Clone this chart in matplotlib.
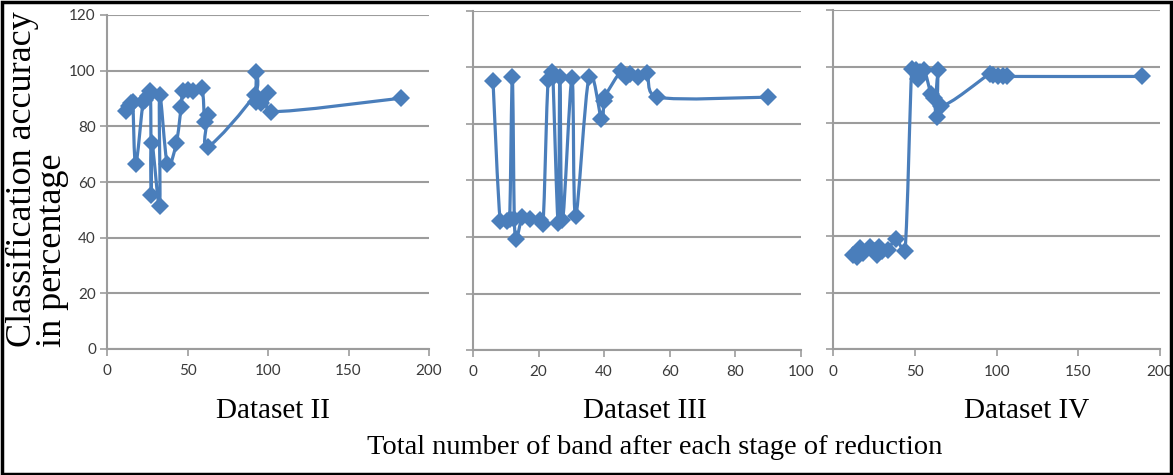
import matplotlib
matplotlib.use("Agg")
import matplotlib.pyplot as plt
import numpy as np
from matplotlib.path import Path
from matplotlib.patches import PathPatch, Rectangle

# band counts / accuracy (%) per reduction stage
bands_ii = [182.4, 102, 100, 95.8, 92.7, 92.7, 91.7, 62.7, 62.7, 60.7, 59, 53.4, 50.3,
            47, 46, 43, 37.5, 32.7, 32.7, 28, 27.5, 27, 25.5, 23.8, 22.4, 17.8, 16,
            15, 13.7, 12]
acc_ii = [90.1, 85.3, 91.8, 88.3, 88.9, 99.6, 91.3, 72.7, 84.1, 81.7, 93.6, 92.8, 93,
          92.8, 86.8, 73.9, 66.4, 91.3, 51.2, 73.9, 55.4, 92.8, 90.9, 89.5, 88.9, 66.4,
          88.9, 88.3, 87.3, 85.5]

bands_iii = [90.1, 56.3, 53.1, 50.2, 48, 46.8, 45.3, 40.2, 39.9, 39.2, 35.4, 31.3, 30.2,
             27.3, 26.5, 26, 24.4, 24.1, 22.9, 21.4, 20.4, 17.3, 15.1, 13.2, 12.6, 12,
             11.2, 10.5, 8.3, 6.1]
acc_iii = [89.5, 89.5, 98, 96.8, 97.8, 96.5, 98.9, 89.7, 88, 81.7, 96.6, 47.5, 96.2,
           46, 96.6, 45.1, 96.6, 98.3, 95.6, 44.6, 46, 46.3, 47.2, 39.2, 46.5, 96.6,
           46.2, 45.8, 45.8, 95.3]

bands_iv = [188.8, 106.5, 104, 101, 98, 95.9, 65.7, 64.3, 63.3, 61.6, 59.8, 55.7, 53,
            52, 50.6, 48, 43.9, 38.4, 33.3, 29.6, 28, 26.5, 24.9, 22.4, 18.4, 16.3,
            14.3, 12.2]
acc_iv = [96.5, 96.5, 96.8, 96.8, 97, 97.5, 86.1, 98.8, 82.3, 88.8, 90.3, 98.8, 97.9,
          95.5, 98.8, 99, 34.9, 38.9, 35.1, 34.6, 36.3, 33.4, 34.6, 36.3, 34, 35.7,
          32.8, 33.4]

titles = ["Dataset II", "Dataset III", "Dataset IV"]
xmax = [200, 100, 200]
xstep = [50, 20, 50]

line_color = "#4A7EBB"
grid_color = "#9C9C9C"
tick_color = "#3A3A3A"
tick_font = ["Lato", "DejaVu Sans"]
serif = ["Liberation Serif", "DejaVu Serif"]


def smooth_path(ax, x, y, tension=1 / 6, clamp=0.5):
    # Bezier curve through the points (Catmull-Rom style), built in pixel space
    pts = ax.transData.transform(np.column_stack([x, y]))
    n = len(pts)
    verts = [pts[0]]
    codes = [Path.MOVETO]
    for i in range(n - 1):
        p_prev = pts[max(i - 1, 0)]
        p0 = pts[i]
        p1 = pts[i + 1]
        p_next = pts[min(i + 2, n - 1)]
        seg = np.hypot(*(p1 - p0))
        t0 = (p1 - p_prev) * tension
        t1 = (p_next - p0) * tension
        for t in (t0, t1):
            ln = np.hypot(*t)
            if ln > clamp * seg and ln > 0:
                t *= clamp * seg / ln
        verts += [p0 + t0, p1 - t1, p1]
        codes += [Path.CURVE4] * 3
    verts = ax.transData.inverted().transform(np.array(verts))
    return Path(verts, codes)


fig = plt.figure(figsize=(11.73, 4.75), dpi=100)

# axes boxes in figure pixels: left, right, top, bottom
boxes = [(107, 429, 15, 349), (473, 800.7, 11, 350), (833.3, 1160, 10, 349.3)]
W, H = 1173, 475
data = [(bands_ii, acc_ii), (bands_iii, acc_iii), (bands_iv, acc_iv)]
title_x = [273, 645, 1027]

for k, ((l, r, t, b), (bx, by)) in enumerate(zip(boxes, data)):
    ax = fig.add_axes([l / W, 1 - b / H, (r - l) / W, (b - t) / H])
    ax.set_xlim(0, xmax[k])
    ax.set_ylim(0, 120)
    ax.set_xticks(np.arange(0, xmax[k] + 1, xstep[k]))
    ax.set_yticks(np.arange(0, 121, 20))
    ax.yaxis.grid(True, color=grid_color, linewidth=1.5)
    ax.set_axisbelow(True)
    for side in ["top", "right"]:
        ax.spines[side].set_visible(False)
    for side in ["left", "bottom"]:
        ax.spines[side].set_color(grid_color)
        ax.spines[side].set_linewidth(1.5)
    ax.tick_params(axis="both", direction="out", length=5, width=1.2,
                   color=grid_color, labelcolor=tick_color, labelsize=11)
    ax.tick_params(axis="x", pad=6)
    ax.tick_params(axis="y", pad=3)
    if k > 0:
        ax.tick_params(axis="y", labelleft=False)
    for lab in ax.get_xticklabels() + ax.get_yticklabels():
        lab.set_fontfamily(tick_font)

    path = smooth_path(ax, bx, by)
    ax.add_patch(PathPatch(path, facecolor="none", edgecolor=line_color,
                           linewidth=2.3, capstyle="round", joinstyle="round"))
    ax.plot(bx, by, linestyle="none", marker="D", markersize=9,
            color=line_color, markeredgewidth=0)

    fig.text(title_x[k] / W, 1 - 411 / H, titles[k], ha="center", va="center",
             fontsize=21, family=serif)

fig.text(655 / W, 1 - 447 / H, "Total number of band after each stage of reduction",
         ha="center", va="center", fontsize=20.5, family=serif)

fig.text(6 / W, 1 - 347 / H, "Classification accuracy\nin percentage",
         rotation=90, ha="left", va="bottom", multialignment="left",
         fontsize=26, family=serif, linespacing=0.87)

# black outer frame
fig.patches.append(Rectangle((1.5 / W, 1.5 / H), 1 - 4 / W, 1 - 3.5 / H,
                             transform=fig.transFigure, fill=False,
                             edgecolor="black", linewidth=2.5))

fig.savefig("out.png", dpi=100)
